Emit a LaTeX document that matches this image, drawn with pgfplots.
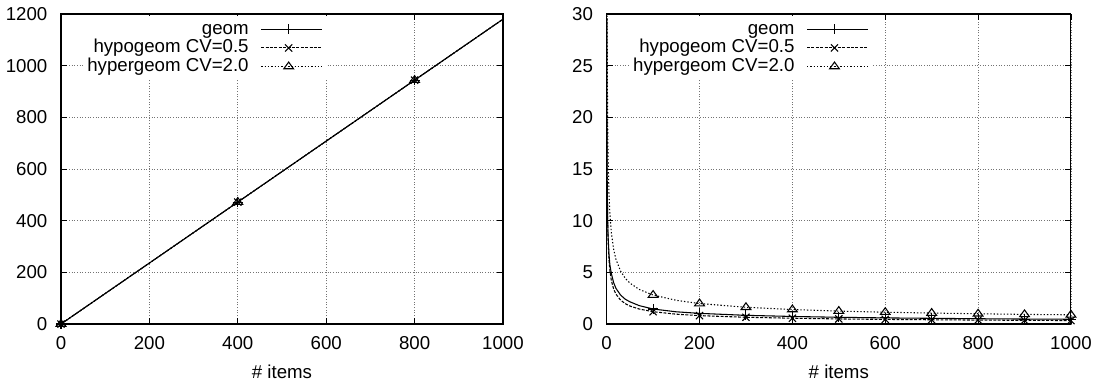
\documentclass[border=0pt]{standalone}
\usepackage{fontspec}
\setmainfont{Liberation Sans}
\usepackage{pgfplots}
\pgfplotsset{compat=1.18}
\pgfplotsset{
  gp/.style={
    scale only axis,
    axis line style={line width=0.8pt},
    tick align=inside,
    major tick length=4.5pt,
    tick style={black, line width=0.6pt},
    grid=major,
    major grid style={black!55, line width=0.6pt, dash pattern=on 0.75pt off 1.25pt},
    /pgf/number format/assume math mode=true,
    /pgf/number format/1000 sep={},
    yticklabel style={xshift=-5.4pt},
    xticklabel style={yshift=-4.8pt},
    xlabel={\# items},
    xlabel style={at={(axis description cs:0.5,0)}, anchor=north, yshift=-26.1pt},
    legend cell align=right,
    legend plot pos=right,
    legend style={draw=none, fill=white, inner sep=3pt, row sep=0.65pt, column sep=9pt,
      nodes={inner sep=0pt, text height=10.3pt, text depth=3pt}},
    legend image code/.code={
      \draw[##1, mark indices={2}] plot coordinates {(0pt,0pt) (20.6pt,0pt) (41.25pt,0pt)};
      \path (0pt,0pt) -- (45.75pt,0pt);
    },
  },
  sgeom/.style={black, line width=0.8pt, mark=+, mark size=3.8pt, mark options={solid}},
  shypo/.style={black, line width=0.8pt, dash pattern=on 2.2pt off 1.1pt, mark=x, mark size=3.8pt, mark options={solid}},
  shyper/.style={black, line width=0.8pt, dash pattern=on 1pt off 1.5pt, mark=triangle, mark size=4.2pt, mark options={solid, yscale=0.8}},
}
\begin{document}
\fontsize{14pt}{17pt}\selectfont
\begin{tikzpicture}
\path[use as bounding box] (0,0) rectangle (826.5pt,287.25pt);
\begin{axis}[gp, at={(45.75pt,44.25pt)}, anchor=south west,
  width=331.5pt, height=232.5pt,
  xmin=0, xmax=1000, ymin=0, ymax=1200,
  xtick={0,200,400,600,800,1000}, ytick={0,200,400,600,800,1000,1200},
  legend style={at={(axis description cs:0.6018,0.9929)}, anchor=north east}]
\addplot[sgeom, mark indices={1,2,3}] coordinates {(0,0) (400,472) (800,944) (1000,1180)};
\addlegendentry{geom}
\addplot[shypo, mark indices={1,2,3}] coordinates {(0,0) (400,472) (800,944) (1000,1180)};
\addlegendentry{hypogeom CV=0.5}
\addplot[shyper, mark indices={1,2,3}] coordinates {(0,0) (400,472) (800,944) (1000,1180)};
\addlegendentry{hypergeom CV=2.0}
\end{axis}
\begin{axis}[gp, at={(455pt,44.25pt)}, anchor=south west,
  width=348.2pt, height=232.5pt,
  xmin=0, xmax=1000, ymin=0, ymax=30,
  xtick={0,200,400,600,800,1000}, ytick={0,5,10,15,20,25,30},
  legend style={at={(axis description cs:0.5733,0.9929)}, anchor=north east}]
\addplot[sgeom, mark indices={15,17,18,19,20,21,22,23,24,25}] coordinates {
(0.24,29.6) (0.5,20.5) (1,14.5) (2,10.3) (3,8.5) (5,6.7) (7,5.7) (10,4.9) (15,4.0)
(20,3.45) (30,2.8) (40,2.4) (50,2.15) (70,1.78) (100,1.45) (150,1.18) (200,1.03)
(300,0.84) (400,0.73) (500,0.65) (600,0.59) (700,0.55) (800,0.51) (900,0.48) (1000,0.46)};
\addlegendentry{geom}
\addplot[shypo, mark indices={15,17,18,19,20,21,22,23,24,25}] coordinates {
(0.29,29.6) (0.5,21.96) (1,15.0) (2,10.25) (3,8.2) (5,6.19) (7,5.14) (10,4.23) (15,3.38)
(20,2.89) (30,2.31) (40,1.97) (50,1.74) (70,1.45) (100,1.19) (150,0.95) (200,0.81)
(300,0.65) (400,0.56) (500,0.49) (600,0.445) (700,0.41) (800,0.38) (900,0.355) (1000,0.335)};
\addlegendentry{hypogeom CV=0.5}
\addplot[shyper, mark indices={15,17,18,19,20,21,22,23,24,25}] coordinates {
(0.88,29.85) (0.94,28.9) (1,28.0) (2,19.8) (3,16.17) (5,12.52) (7,10.58) (10,8.85) (15,7.23)
(20,6.26) (30,5.11) (40,4.43) (50,3.96) (70,3.35) (100,2.80) (150,2.29) (200,1.98)
(300,1.62) (400,1.40) (500,1.25) (600,1.14) (700,1.06) (800,0.99) (900,0.93) (1000,0.89)};
\addlegendentry{hypergeom CV=2.0}
\end{axis}
\end{tikzpicture}
\end{document}
